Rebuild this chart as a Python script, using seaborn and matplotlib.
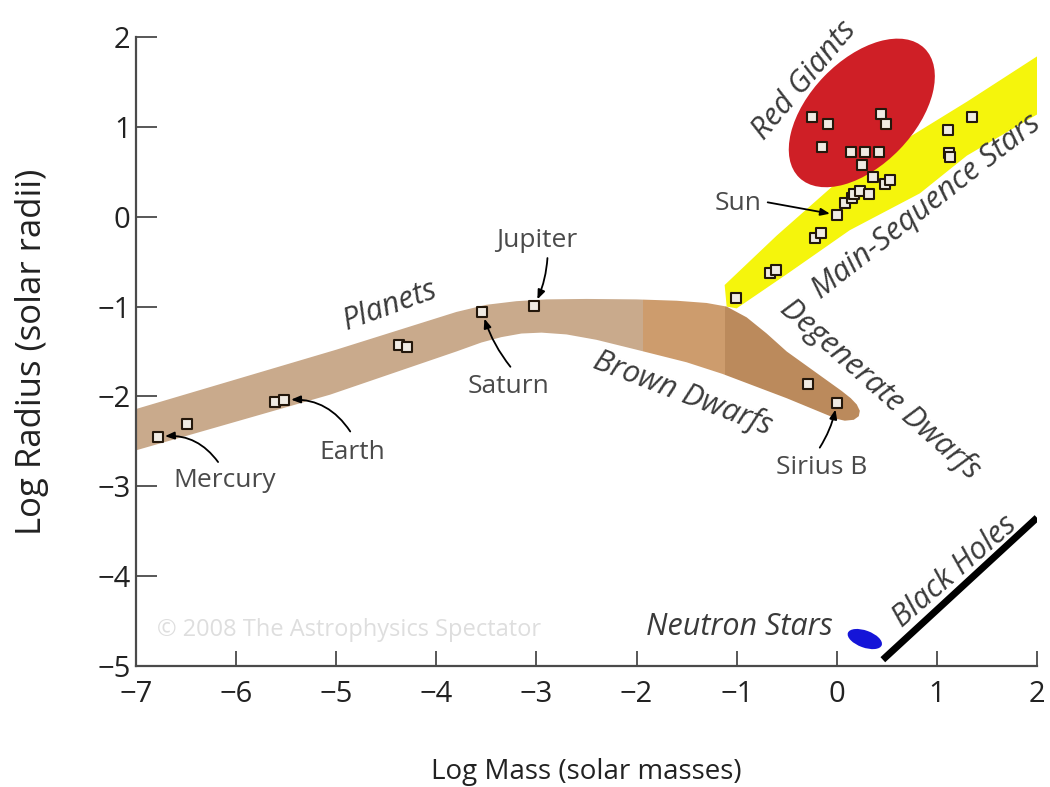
import numpy as np
import pandas as pd
import matplotlib
matplotlib.use("Agg")
import matplotlib.pyplot as plt
import seaborn as sns
from matplotlib.patches import Polygon, Ellipse, Rectangle
from matplotlib.transforms import Affine2D

# ---- objects: log10 mass (solar masses) and log10 radius (solar radii) ----
planet_names = ["Mercury", "Mars", "Venus", "Earth", "Uranus", "Neptune", "Saturn", "Jupiter"]
planet_logm = [-6.78, -6.49, -5.61, -5.52, -4.37, -4.29, -3.54, -3.02]
planet_logr = [-2.45, -2.31, -2.06, -2.04, -1.43, -1.45, -1.06, -0.99]

dwarf_names = ["40 Eri B", "Sirius B"]
dwarf_logm = [-0.29, 0.00]
dwarf_logr = [-1.86, -2.07]

giant_logm = [-0.25, -0.09, 0.44, 0.49, -0.15, 0.14, 0.28, 0.42, 0.25]
giant_logr = [1.11, 1.03, 1.14, 1.03, 0.78, 0.72, 0.72, 0.72, 0.58]

ms_logm = [-1.01, -0.67, -0.61, -0.22, -0.16, 0.00, 0.08, 0.15, 0.17, 0.23,
           0.32, 0.36, 0.48, 0.53, 1.12, 1.13, 1.11, 1.35]
ms_logr = [-0.91, -0.63, -0.59, -0.24, -0.18, 0.02, 0.15, 0.21, 0.25, 0.29,
           0.25, 0.44, 0.36, 0.41, 0.71, 0.67, 0.97, 1.11]

# ---- regions of the diagram ----
band_top_x = [-7.0, -5.0, -4.2, -3.8, -3.5, -3.2, -2.9, -2.5, -2.0, -1.6, -1.3, -1.1,
              -0.9, -0.7, -0.5, -0.3, -0.1, 0.05, 0.14, 0.2, 0.23]
band_top_y = [-2.14, -1.48, -1.2, -1.06, -0.98, -0.94, -0.92, -0.915, -0.92, -0.935, -0.96, -1.0,
              -1.12, -1.3, -1.5, -1.66, -1.82, -1.94, -2.02, -2.09, -2.16]
band_bot_x = [0.22, 0.17, 0.08, 0.0, -0.5, -1.14, -1.5, -2.0, -2.4, -2.7, -2.95, -3.15,
              -3.35, -3.55, -3.8, -5.06, -7.0]
band_bot_y = [-2.22, -2.26, -2.27, -2.25, -2.02, -1.75, -1.62, -1.48, -1.37, -1.31, -1.29, -1.3,
              -1.34, -1.4, -1.5, -1.98, -2.6]
band_splits = [-7.0, -1.94, -1.12, 0.4]
band_colors = ["#c9aa8c", "#cd9c6d", "#bb8a5c"]

ms_top_x = [-1.12, -0.6, 0.0, 0.6, 1.3, 2.05]
ms_top_y = [-0.76, -0.21, 0.38, 0.80, 1.28, 1.82]
ms_bot_x = [2.05, 1.3, 0.83, 0.13, -0.5, -1.0, -1.1]
ms_bot_y = [1.17, 0.68, 0.26, -0.15, -0.64, -1.02, -1.0]

giant_center = (0.25, 1.155)
neutron_center = (0.28, -4.70)
bh_logm = [0.46, 2.0]
bh_logr = [-4.93, -3.35]

x_ticks = [-7, -6, -5, -4, -3, -2, -1, 0, 1, 2]
y_ticks = [-5, -4, -3, -2, -1, 0, 1, 2]

# ---- figure ----
sns.set_style("ticks")
plt.rcParams["font.family"] = ["Open Sans", "DejaVu Sans"]

W, H = 10.5, 7.87
fig = plt.figure(figsize=(W, H), dpi=100)
L, R, B, T = 136 / 1050, 1037 / 1050, 1 - 666 / 787, 1 - 37 / 787
ax = fig.add_axes([L, B, R - L, T - B])
ax.set_xlim(-7, 2)
ax.set_ylim(-5, 2)

# pixels per data unit, used for shapes defined in screen proportions
sx = (R - L) * W * 100 / 9
sy = (T - B) * H * 100 / 7

# planets / brown dwarfs / degenerate dwarfs band
band_xy = np.column_stack([band_top_x + band_bot_x, band_top_y + band_bot_y])
for (x0, x1), col in zip(zip(band_splits[:-1], band_splits[1:]), band_colors):
    poly = Polygon(band_xy, closed=True, facecolor=col, edgecolor="none", zorder=1)
    ax.add_patch(poly)
    clip = Rectangle((x0, -6), x1 - x0, 8, transform=ax.transData)
    poly.set_clip_path(clip)

# main sequence band
ms_xy = np.column_stack([ms_top_x + ms_bot_x, ms_top_y + ms_bot_y])
ax.add_patch(Polygon(ms_xy, closed=True, facecolor="#f5f50c", edgecolor="none", zorder=2))

# red giants and neutron stars
ax.add_patch(Ellipse((0, 0), 180, 105, angle=46, facecolor="#cf1f26", edgecolor="none", zorder=3,
                     transform=Affine2D().scale(1 / sx, 1 / sy).translate(*giant_center) + ax.transData))
ax.add_patch(Ellipse((0, 0), 36, 17, angle=-20, facecolor="#1515d8", edgecolor="none", zorder=3,
                     transform=Affine2D().scale(1 / sx, 1 / sy).translate(*neutron_center) + ax.transData))

# black holes
ax.plot(bh_logm, bh_logr, color="black", lw=5, solid_capstyle="butt", zorder=3)

# measured objects
df = pd.DataFrame({
    "logm": planet_logm + dwarf_logm + giant_logm + ms_logm,
    "logr": planet_logr + dwarf_logr + giant_logr + ms_logr,
})
sns.scatterplot(data=df, x="logm", y="logr", marker="s", s=52, color="#f0ebe3",
                edgecolor="#24180c", linewidth=1.5, ax=ax, zorder=5)

# axes styling
sns.despine(ax=ax)
for side in ("left", "bottom"):
    ax.spines[side].set_color("#4a4a4a")
    ax.spines[side].set_linewidth(1.6)
ax.set_xticks(x_ticks)
ax.set_yticks(y_ticks)
ax.tick_params(axis="x", direction="in", length=11, width=1.3, color="#4a4a4a",
               labelsize=21, labelcolor="#222222", pad=10)
ax.tick_params(axis="y", direction="in", length=15, width=1.3, color="#4a4a4a",
               labelsize=21, labelcolor="#222222", pad=4)
ax.set_xlabel("Log Mass (solar masses)", fontsize=20, color="#222222", va="center")
ax.set_ylabel("Log Radius (solar radii)", fontsize=25, color="#222222", va="center")
ax.xaxis.set_label_coords(0.5, (666 - 772) / 629)
ax.yaxis.set_label_coords((32 - 136) / 901, 0.5)

# region labels
lab = dict(fontsize=22, color="#3a3a3a", style="italic", ha="center", va="center", zorder=6)
ax.text(-4.46, -0.99, "Planets", rotation=20, **lab)
ax.text(-1.54, -1.96, "Brown Dwarfs", rotation=-21, **lab)
ax.text(0.43, -1.92, "Degenerate Dwarfs", rotation=-41.5, **lab)
ax.text(0.90, 0.11, "Main-Sequence Stars", rotation=38, **lab)
ax.text(-0.32, 1.52, "Red Giants", rotation=50, **lab)
ax.text(-0.97, -4.57, "Neutron Stars", rotation=0, **lab)
ax.text(1.18, -3.95, "Black Holes", rotation=41, **lab)

# named objects with arrows
name = dict(fontsize=19, color="#4a4a4a", ha="center", va="center", zorder=6)
arrow = dict(arrowstyle="-|>,head_length=0.55,head_width=0.22", color="black", lw=1.3,
             shrinkA=0, shrinkB=5)
notes = [
    ("Mercury", (-6.11, -2.94), (-6.18, -2.73), (planet_logm[0], planet_logr[0]), 0.3),
    ("Earth", (-4.84, -2.62), (-4.86, -2.39), (planet_logm[3], planet_logr[3]), 0.3),
    ("Saturn", (-3.28, -1.89), (-3.26, -1.67), (planet_logm[6], planet_logr[6]), -0.1),
    ("Jupiter", (-3.0, -0.26), (-2.89, -0.46), (planet_logm[7], planet_logr[7]), -0.1),
    ("Sun", (-0.99, 0.15), (-0.69, 0.16), (ms_logm[5], ms_logr[5]), 0.0),
    ("Sirius B", (-0.15, -2.79), (-0.17, -2.57), (dwarf_logm[1], dwarf_logr[1]), 0.1),
]
for txt, tpos, start, target, rad in notes:
    ax.text(*tpos, txt, **name)
    ax.annotate("", xy=target, xytext=start, zorder=6,
                arrowprops=dict(connectionstyle=f"arc3,rad={rad}", **arrow))

ax.text(-6.79, -4.6, "\u00a9 2008 The Astrophysics Spectator", fontsize=17,
        color="#dedede", ha="left", va="center", zorder=0)

fig.savefig("out.png", dpi=100)
